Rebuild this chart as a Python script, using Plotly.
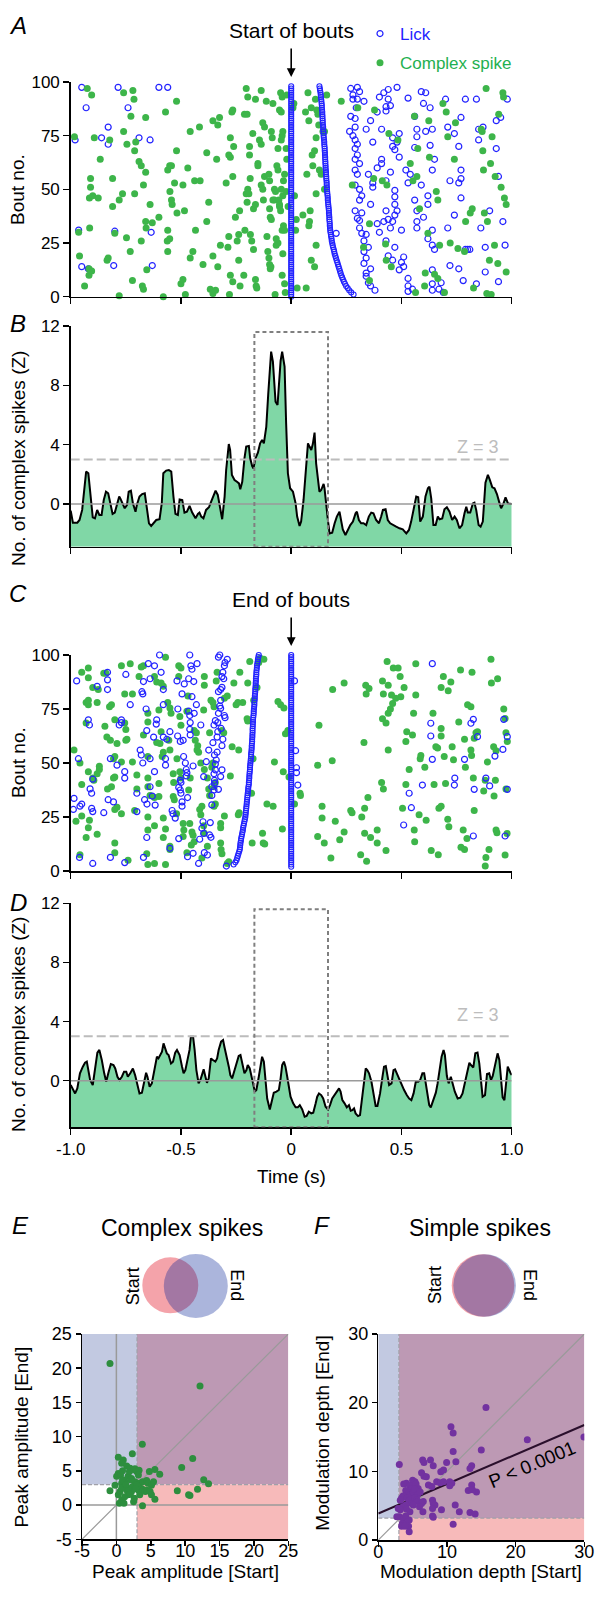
import plotly.graph_objects as go

W, H = 599, 1598
FONT = "Liberation Sans, Arial, Helvetica, sans-serif"

def fx(p):
    return p / W

def fy(p):
    return 1 - p / H

def unzip(pairs):
    return [p[0] for p in pairs], [p[1] for p in pairs]

# ---------------- DATA ----------------
# Panel A: complex spikes (time s, bout no.) aligned to start of bouts
A_spikes = [(-0.983,74.5),(-0.964,30),(-0.96,19),(-0.937,5),(-0.925,97),(-0.905,94),(-0.917,13),(-0.917,10),(-0.905,12),(-0.914,32),(-0.91,55),(-0.91,51),(-0.915,46),(-0.9,47),(-0.893,74),(-0.875,46),(-0.866,64),(-0.835,17),(-0.83,18),(-0.823,73),(-0.81,55),(-0.81,42),(-0.8,29.5),(-0.78,45),(-0.765,48),(-0.76,95),(-0.76,77),(-0.745,71),(-0.747,27.5),(-0.73,21),(-0.727,84),(-0.72,7.5),(-0.718,96),(-0.713,92),(-0.71,48),(-0.71,68),(-0.705,72),(-0.69,63),(-0.68,61),(-0.68,26),(-0.675,5),(-0.67,3.5),(-0.67,52),(-0.66,58),(-0.66,83.5),(-0.66,35),(-0.658,32),(-0.655,12.5),(-0.64,43),(-0.78,0.5),(-0.58,0),(-0.48,1),(-0.63,34.5),(-0.6,37),(-0.57,86),(-0.56,59),(-0.551,61),(-0.543,61),(-0.56,31),(-0.562,26),(-0.56,21),(-0.551,27),(-0.55,49),(-0.543,45),(-0.54,43),(-0.529,53),(-0.52,91),(-0.52,68),(-0.518,39),(-0.5,6),(-0.491,8),(-0.491,52),(-0.484,40),(-0.469,60),(-0.458,77),(-0.458,18),(-0.446,21),(-0.438,54),(-0.434,31),(-0.416,79),(-0.413,54),(-0.4,15),(-0.383,67),(-0.383,35),(-0.374,44),(-0.367,3.5),(-0.355,1.5),(-0.355,19),(-0.355,82),(-0.343,3),(-0.338,64),(-0.333,14),(-0.325,83.5),(-0.333,80),(-0.321,24),(-0.295,53),(-0.287,23),(-0.283,28),(-0.283,66),(-0.276,65),(-0.28,1),(-0.276,10),(-0.265,7),(-0.269,86),(-0.265,87),(-0.276,74),(-0.265,56),(-0.261,70),(-0.253,37),(-0.245,26),(-0.238,29),(-0.234,40),(-0.238,17),(-0.232,5),(-0.215,10),(-0.21,31),(-0.212,85),(-0.204,97),(-0.197,93),(-0.2,85),(-0.204,48),(-0.197,50),(-0.192,48),(-0.2,44),(-0.189,70),(-0.189,66),(-0.186,55),(-0.185,29),(-0.179,26),(-0.171,22),(-0.174,76),(-0.171,41),(-0.162,43),(-0.162,92),(-0.151,62),(-0.151,61),(-0.162,8),(-0.159,5),(-0.156,4),(-0.144,73),(-0.136,71),(-0.136,96),(-0.136,52),(-0.129,50),(-0.126,45),(-0.129,81),(-0.121,79),(-0.121,56),(-0.113,91),(-0.11,28),(-0.106,21),(-0.101,18),(-0.098,15),(-0.095,13),(-0.092,14),(-0.101,57),(-0.098,54),(-0.098,41),(-0.095,37),(-0.09,36),(-0.09,77),(-0.086,74),(-0.083,90),(-0.083,45),(-0.076,45),(-0.076,50),(-0.071,49),(-0.073,1),(-0.068,24),(-0.06,25),(-0.068,27),(-0.065,61),(-0.06,59),(-0.06,69),(-0.056,45),(-0.053,42),(-0.048,40),(-0.053,43),(-0.053,87),(-0.045,86),(-0.048,95),(-0.041,93),(-0.045,73),(-0.041,75),(-0.038,77),(-0.045,50),(-0.038,47),(-0.035,54),(-0.03,57),(-0.041,31),(-0.035,33),(-0.03,31),(-0.038,20),(-0.041,10),(-0.03,6),(-0.027,2),(-0.023,69),(-0.02,64),(-0.023,49),(-0.02,94),(-0.014,42),
    (0.008,88),(0.012,90),(0.02,31),(0.023,36),(0.015,47),(0.027,4),(0.053,38),(0.065,86),(0.068,4),(0.071,57),(0.076,95),(0.08,33),(0.083,35),(0.086,40),(0.08,82),(0.091,88),(0.091,17),(0.106,14),(0.095,66),(0.098,61),(0.106,68),(0.113,74),(0.11,92),(0.116,87),(0.113,48),(0.113,24),(0.121,85),(0.125,80),(0.128,59),(0.136,57),(0.144,77),(0.151,77),(0.151,50),(0.161,94),(0.227,91),(0.277,52),(0.302,88),(0.328,23),(0.355,34),(0.355,7.5),(0.374,55),(0.378,87),(0.413,54),(0.428,24.5),(0.431,17),(0.434,52),(0.443,76),(0.454,14),(0.484,73),(0.54,62),(0.552,54),(0.559,84),(0.564,2),(0.57,56),(0.574,69),(0.582,41),(0.605,5),(0.608,11),(0.62,29.5),(0.624,82),(0.627,65),(0.65,10.5),(0.658,49),(0.665,45),(0.665,8.5),(0.673,24),(0.688,90),(0.695,2),(0.703,86),(0.71,74.5),(0.721,25),(0.74,64),(0.745,81),(0.756,22.5),(0.786,21),(0.791,35),(0.812,39),(0.821,41),(0.827,4),(0.862,78),(0.866,77),(0.869,68),(0.872,59),(0.876,39),(0.884,97),(0.887,1.5),(0.907,1),(0.89,35),(0.899,17),(0.904,62),(0.911,74.5),(0.922,24),(0.925,56),(0.937,15.5),(0.941,85),(0.952,51),(0.96,95),(0.963,93),(0.967,46),(0.975,43),(0.975,11.5)]

# Panel A: licks other than the first two of each bout
A_licks = [(-0.95,97.5),(-0.93,88),(-0.98,73),(-0.964,31),(-0.95,14),(-0.92,13),(-0.83,79),(-0.86,74),(-0.83,71),(-0.8,30.5),(-0.805,14.5),(-0.785,97.5),(-0.74,88),(-0.69,74),(-0.64,73),(-0.635,30),(-0.63,14.5),(-0.6,97.5),(-0.56,97.5),
    (0.27,97),(0.28,94),(0.28,92),(0.3,97.5),(0.31,95.5),(0.3,92),(0.295,88),(0.27,84),(0.29,83),(0.265,77),(0.29,79),(0.28,75),(0.29,73),(0.3,71),(0.29,69),(0.3,66),(0.29,64),(0.31,62),(0.29,59),(0.3,57),(0.29,52),(0.31,50),(0.32,47),(0.31,45),(0.29,40),(0.32,39),(0.3,36.5),(0.31,35.5),(0.31,32),(0.32,29.5),(0.34,29),(0.33,26),(0.35,23),(0.33,21),(0.34,18),(0.33,15.5),(0.36,13),(0.34,11),(0.34,9.5),(0.35,6.5),(0.36,5),(0.38,3),(0.33,91),(0.36,82),(0.34,78),(0.35,57),(0.36,43),(0.37,72),(0.37,53),(0.37,51),(0.39,86),(0.4,93),(0.42,95),(0.44,96.5),(0.44,92),(0.43,88.5),(0.41,78),(0.43,86.5),(0.45,89),(0.41,64),(0.39,60),(0.41,62),(0.43,54),(0.45,58),(0.39,34),(0.4,30),(0.42,35),(0.43,40),(0.44,36),(0.46,35),(0.43,26),(0.44,19),(0.46,17),(0.45,32),(0.46,74),(0.46,70),(0.47,68.5),(0.49,76),(0.48,72),(0.49,65),(0.47,49.5),(0.47,46.5),(0.47,43),(0.48,40),(0.47,38),(0.5,31),(0.47,23),(0.51,18.5),(0.5,16),(0.49,12.5),(0.51,14),(0.53,8.5),(0.53,5),(0.55,3.5),(0.53,2.5),(0.48,97.5),(0.53,92.5),(0.56,84),(0.57,78),(0.57,74.5),(0.56,69.5),(0.53,53),(0.52,59),(0.54,57),(0.56,45),(0.57,40),(0.57,35),(0.57,32),(0.59,52),(0.6,37),(0.59,95.5),(0.61,95),(0.6,90),(0.63,88),(0.61,77),(0.64,78),(0.63,70.5),(0.65,64),(0.64,59),(0.62,47),(0.62,43),(0.64,31),(0.64,24),(0.65,22),(0.62,27),(0.64,12.5),(0.64,6),(0.64,3),(0.67,3.5),(0.68,6.5),(0.69,2),(0.7,92),(0.71,79),(0.74,76),(0.76,70),(0.71,32),(0.74,38),(0.77,46),(0.77,55),(0.77,59),(0.76,53),(0.72,54),(0.72,14.5),(0.76,13),(0.78,7.5),(0.79,22),(0.8,22),(0.81,22),(0.77,83.5),(0.79,92),(0.84,92),(0.85,78),(0.85,73),(0.87,79),(0.86,32),(0.88,11.5),(0.9,40),(0.94,56),(0.93,69),(0.95,83.5),(0.93,82),(0.97,24),(0.96,35),(0.94,7),(0.98,92),(0.88,23),(0.84,6),(0.204,29.5)]

# Panel A: time of the second lick for bouts 1..98 (sorted)
A_second_lick = [0.283,0.272,0.263,0.256,0.249,0.244,0.239,0.235,0.231,0.227,0.224,0.221,0.218,0.215,0.212,0.209,0.206,0.203,0.2,0.197,0.195,0.193,0.19,0.188,0.186,0.184,0.183,0.181,0.18,0.178,0.177,0.176,0.175,0.175,0.174,0.173,0.173,0.172,0.171,0.171,0.17,0.169,0.168,0.167,0.166,0.166,0.165,0.164,0.163,0.162,0.162,0.161,0.161,0.16,0.159,0.159,0.158,0.158,0.157,0.156,0.156,0.155,0.155,0.154,0.154,0.153,0.153,0.152,0.152,0.151,0.15,0.15,0.149,0.148,0.147,0.147,0.146,0.145,0.145,0.144,0.143,0.143,0.142,0.142,0.141,0.141,0.14,0.139,0.139,0.138,0.137,0.136,0.135,0.134,0.133,0.131,0.13,0.128]
A_first_lick_bouts = list(range(0, 99))

# Panel B: z-scored complex spike PSTH (start of bouts)
B_pts = [(-1.0,-0.45),(-0.99,-1.26),(-0.97,-1.26),(-0.96,-1.08),(-0.948,-0.4),(-0.937,0.94),(-0.93,2.18),(-0.92,2.07),(-0.91,0.5),(-0.9,-0.9),(-0.89,-0.97),(-0.88,-0.4),(-0.87,-0.74),(-0.86,-0.74),(-0.85,0.27),(-0.84,0.83),(-0.83,0.72),(-0.82,0.05),(-0.81,-0.67),(-0.8,-0.58),(-0.79,-0.07),(-0.78,0.5),(-0.775,0.38),(-0.763,-0.07),(-0.755,-0.29),(-0.745,-0.07),(-0.737,0.83),(-0.727,0.9),(-0.718,0.05),(-0.706,-0.52),(-0.7,-0.07),(-0.688,0.5),(-0.676,0.67),(-0.664,0.72),(-0.655,-0.4),(-0.645,-1.3),(-0.635,-1.48),(-0.624,-1.26),(-0.612,-1.08),(-0.597,-1.03),(-0.587,0.05),(-0.58,2.07),(-0.567,2.25),(-0.555,2.29),(-0.544,2.18),(-0.534,0.5),(-0.525,-0.67),(-0.514,-0.74),(-0.506,0.31),(-0.494,0.27),(-0.484,-0.58),(-0.473,-0.52),(-0.461,-0.13),(-0.449,-0.58),(-0.434,-0.97),(-0.423,-0.67),(-0.416,-0.58),(-0.408,-0.85),(-0.398,-0.97),(-0.386,-0.4),(-0.373,-0.22),(-0.363,0.16),(-0.352,0.61),(-0.343,0.9),(-0.333,0.61),(-0.322,-0.4),(-0.313,-1.03),(-0.302,0.5),(-0.295,2.29),(-0.283,4.04),(-0.277,3.64),(-0.269,1.96),(-0.257,1.62),(-0.246,1.5),(-0.237,1.39),(-0.231,0.99),(-0.222,1.5),(-0.212,3.08),(-0.204,3.87),(-0.192,3.91),(-0.186,3.08),(-0.177,2.56),(-0.171,2.4),(-0.162,3.08),(-0.151,3.46),(-0.141,4.09),(-0.132,4.31),(-0.124,4.09),(-0.113,5.2),(-0.104,7.46),(-0.098,8.8),(-0.091,10.27),(-0.083,9.6),(-0.076,7.9),(-0.071,6.9),(-0.062,6.67),(-0.056,8.13),(-0.048,9.66),(-0.041,10.27),(-0.03,9.26),(-0.023,5.44),(-0.015,2.07),(-0.005,1.06),(0.008,0.83),(0.02,0.04),(0.027,-0.85),(0.038,-1.48),(0.045,-1.19),(0.056,0.27),(0.065,2.18),(0.076,4.09),(0.083,3.87),(0.091,3.64),(0.098,4.04),(0.106,4.81),(0.113,2.74),(0.121,1.5),(0.128,0.83),(0.136,0.94),(0.147,1.35),(0.151,1.06),(0.159,-0.18),(0.166,-1.03),(0.174,-1.98),(0.186,-1.93),(0.197,-1.3),(0.207,-0.85),(0.219,-0.52),(0.227,-1.08),(0.234,-1.71),(0.246,-2.09),(0.257,-1.75),(0.268,-1.42),(0.28,-1.19),(0.292,-0.63),(0.298,-0.52),(0.307,-1.08),(0.317,-1.3),(0.328,-1.3),(0.34,-1.42),(0.352,-0.85),(0.363,-0.58),(0.373,-0.63),(0.385,-1.08),(0.398,-1.3),(0.408,-0.85),(0.416,-0.4),(0.428,-0.36),(0.438,-1.08),(0.449,-1.3),(0.461,-1.42),(0.476,-1.53),(0.491,-1.64),(0.506,-1.71),(0.522,-1.98),(0.534,-1.75),(0.544,-1.19),(0.555,-0.4),(0.567,0.5),(0.576,0.45),(0.585,-1.19),(0.597,-0.85),(0.609,0.5),(0.62,1.06),(0.627,1.17),(0.635,0.38),(0.645,-1.42),(0.655,-1.42),(0.665,-0.85),(0.673,-1.03),(0.685,-0.97),(0.695,-0.36),(0.706,-0.22),(0.718,-0.52),(0.73,-1.08),(0.741,-0.85),(0.751,-1.08),(0.763,-1.64),(0.775,-1.42),(0.786,-0.63),(0.794,-0.18),(0.801,-0.58),(0.812,-0.58),(0.824,0.04),(0.831,0.09),(0.839,-0.4),(0.85,-1.42),(0.859,-1.53),(0.869,-1.19),(0.881,1.44),(0.892,1.96),(0.9,1.66),(0.912,1.12),(0.922,1.06),(0.933,0.67),(0.945,0.04),(0.952,-0.29),(0.963,0.04),(0.972,0.45),(0.983,0.04),(1.0,0.0)]

# Panel C: complex spikes aligned to end of bouts
C_spikes = [(-0.985,56),(-0.976,23),(-0.958,7.5),(-0.958,50),(-0.95,40),(-0.95,92),(-0.92,94),(-0.92,89.5),(-0.93,78),(-0.92,77),(-0.92,79),(-0.93,68.5),(-0.92,46),(-0.95,25.5),(-0.915,23.5),(-0.92,20),(-0.93,15.5),(-0.88,17),(-0.9,85),(-0.88,78),(-0.875,84),(-0.9,43),(-0.87,48.5),(-0.87,47),(-0.88,45),(-0.895,42),(-0.85,91.5),(-0.84,91.5),(-0.845,67),(-0.836,62),(-0.82,60.5),(-0.833,38),(-0.815,39),(-0.806,43),(-0.8,43.5),(-0.824,76),(-0.815,77),(-0.806,52),(-0.8,53),(-0.8,70),(-0.79,59),(-0.79,29.5),(-0.8,28.5),(-0.8,13),(-0.8,8.5),(-0.77,26.5),(-0.77,95),(-0.755,82),(-0.755,68.5),(-0.75,60.5),(-0.75,65.5),(-0.745,61),(-0.77,50.5),(-0.74,5),(-0.73,96),(-0.72,82),(-0.72,50.5),(-0.71,28),(-0.7,44.5),(-0.7,38),(-0.69,90),(-0.68,94.5),(-0.67,95),(-0.67,63),(-0.65,73),(-0.65,69),(-0.65,53),(-0.65,39),(-0.65,25),(-0.65,43),(-0.64,35),(-0.65,19),(-0.655,8),(-0.65,3),(-0.62,90),(-0.61,87.5),(-0.59,87),(-0.58,85.5),(-0.62,21),(-0.62,3.5),(-0.62,34),(-0.6,40.5),(-0.6,34.5),(-0.6,74.5),(-0.59,64.5),(-0.61,59.5),(-0.595,59),(-0.585,53),(-0.58,55),(-0.58,15.5),(-0.57,19.5),(-0.57,3),(-0.58,24.5),(-0.57,99),(-0.56,78),(-0.55,75.5),(-0.545,73),(-0.555,60.5),(-0.55,56),(-0.535,45),(-0.533,41),(-0.535,34.5),(-0.53,33),(-0.55,11.5),(-0.55,10),(-0.518,52),(-0.52,26.5),(-0.51,95),(-0.5,94),(-0.51,90),(-0.505,71.5),(-0.5,67.5),(-0.505,46),(-0.5,43),(-0.49,22),(-0.487,19),(-0.49,16),(-0.473,74),(-0.468,81),(-0.465,37.5),(-0.458,43),(-0.46,22),(-0.45,18),(-0.445,16.5),(-0.44,13.5),(-0.453,12),(-0.473,8.5),(-0.44,65),(-0.43,64),(-0.435,60.5),(-0.424,58),(-0.427,56),(-0.42,55),(-0.41,50),(-0.415,28.5),(-0.405,30),(-0.41,26),(-0.405,6),(-0.394,86),(-0.394,90),(-0.397,74.5),(-0.394,47),(-0.38,43),(-0.397,21),(-0.394,17.5),(-0.38,11.5),(-0.374,38),(-0.37,35),(-0.37,64),(-0.364,79),(-0.355,78),(-0.35,76),(-0.36,48),(-0.355,50),(-0.35,39),(-0.344,41),(-0.344,31),(-0.35,30),(-0.34,88),(-0.336,92),(-0.32,22),(-0.32,20),(-0.32,13),(-0.318,10),(-0.314,8),(-0.314,65),(-0.306,64),(-0.303,80),(-0.29,81),(-0.303,25.5),(-0.29,3.5),(-0.283,4.3),(-0.276,44),(-0.268,57.5),(-0.26,87),(-0.25,77),(-0.242,78),(-0.24,26),(-0.236,27),(-0.238,56),(-0.233,92),(-0.22,78),(-0.2,70.5),(-0.197,69.5),(-0.197,87),(-0.188,97),(-0.18,36),(-0.177,13),(-0.173,52),(-0.17,79),(-0.155,85),(-0.147,96.5),(-0.14,98.5),(-0.124,98),(-0.13,17.5),(-0.127,13),(-0.12,12.5),(-0.11,31),(-0.082,30),(-0.076,50.5),(-0.06,78.5),(-0.048,77),(-0.033,75.5),(-0.04,19.5),(-0.036,46),(-0.026,63.5),(-0.015,65),(-0.01,43.5),(0.015,31),(0.04,36),(0.042,35),
    (0.12,16),(0.12,49),(0.126,67.5),(0.14,30),(0.14,24.5),(0.15,13),(0.18,6),(0.186,51),(0.188,84),(0.2,23),(0.22,14.5),(0.24,18),(0.24,87),(0.27,28),(0.276,27),(0.315,7.5),(0.32,25),(0.33,59.5),(0.333,29),(0.333,17.5),(0.338,86),(0.34,82),(0.353,84.5),(0.342,4.5),(0.348,34),(0.36,15.5),(0.39,19),(0.39,13),(0.41,41),(0.418,38),(0.414,88),(0.418,82),(0.414,70.5),(0.43,68.5),(0.43,9.5),(0.435,97),(0.44,56),(0.44,86),(0.455,81.5),(0.44,73),(0.45,75),(0.46,77.5),(0.474,80),(0.463,94),(0.485,94),(0.494,90),(0.497,80.7),(0.505,29),(0.512,85),(0.52,60),(0.524,64.5),(0.52,40),(0.535,47),(0.55,63),(0.555,73),(0.558,19),(0.56,13.5),(0.565,96),(0.565,81.5),(0.58,26),(0.585,52),(0.588,53.5),(0.606,48),(0.612,23.5),(0.635,9.5),(0.643,73),(0.648,40),(0.656,57.5),(0.664,57),(0.667,7.5),(0.67,29),(0.68,30),(0.68,66),(0.68,62.5),(0.68,85),(0.69,90),(0.694,53),(0.7,40.5),(0.71,24),(0.712,83.5),(0.715,20.5),(0.724,87.5),(0.73,57.5),(0.736,51.5),(0.76,69),(0.768,93),(0.77,11),(0.786,10),(0.78,19),(0.786,61),(0.79,48),(0.797,15),(0.8,77),(0.815,76),(0.815,56),(0.818,53.5),(0.82,92),(0.826,43),(0.83,28),(0.83,61.5),(0.838,64),(0.845,64.5),(0.873,37),(0.88,42),(0.88,2.3),(0.883,6.3),(0.89,50.5),(0.897,10),(0.906,98),(0.908,87),(0.918,57.5),(0.929,55.7),(0.92,34.7),(0.926,42),(0.929,19),(0.933,17.7),(0.936,89),(0.964,75),(0.97,70.6),(0.974,64),(0.98,60),(0.97,7.4),(0.974,38),(0.979,17.4)]

C_licks = [(-0.988,28.5),(-0.985,33.6),(-0.973,88),(-0.965,52),(-0.958,30),(-0.95,31),(-0.96,6.3),(-0.92,70),(-0.915,67.6),(-0.912,38),(-0.905,36),(-0.905,29),(-0.9,27.5),(-0.9,42.5),(-0.9,3.5),(-0.88,85.5),(-0.85,27),(-0.833,92),(-0.833,88.5),(-0.833,84),(-0.83,33),(-0.806,32),(-0.82,52),(-0.82,6.3),(-0.79,49),(-0.77,70),(-0.77,68.7),(-0.78,67.6),(-0.755,46),(-0.755,43),(-0.755,3.9),(-0.75,91),(-0.73,77),(-0.7,36),(-0.7,27.5),(-0.685,56),(-0.68,53.7),(-0.677,83),(-0.673,82),(-0.673,50),(-0.67,6.3),(-0.67,87.7),(-0.665,33),(-0.654,31),(-0.658,75),(-0.655,65),(-0.655,15.5),(-0.648,96),(-0.64,89),(-0.64,52),(-0.64,39),(-0.63,34.7),(-0.624,62),(-0.62,95),(-0.62,46),(-0.617,30.5),(-0.612,68),(-0.61,70),(-0.597,100),(-0.59,92),(-0.58,84),(-0.58,77),(-0.58,62),(-0.57,52),(-0.57,49),(-0.564,61),(-0.55,10.5),(-0.55,64.5),(-0.54,28),(-0.536,26.5),(-0.526,24.5),(-0.518,88),(-0.515,62.5),(-0.514,75),(-0.51,38.7),(-0.51,15),(-0.503,42),(-0.5,41),(-0.503,37.5),(-0.5,36),(-0.495,30),(-0.495,32),(-0.503,60),(-0.495,82),(-0.49,60.5),(-0.488,53),(-0.485,86.6),(-0.48,50),(-0.476,47),(-0.476,44),(-0.473,45.5),(-0.47,34),(-0.47,6.6),(-0.465,89),(-0.465,74),(-0.46,72),(-0.458,68.7),(-0.46,65.6),(-0.458,63),(-0.46,100),(-0.455,95),(-0.45,93.4),(-0.45,80.7),(-0.445,48.6),(-0.442,87.7),(-0.445,8.2),(-0.44,73),(-0.43,77),(-0.427,96),(-0.42,3.5),(-0.415,14.7),(-0.41,67.6),(-0.405,19.8),(-0.397,17.4),(-0.4,22.8),(-0.397,43.7),(-0.394,8.5),(-0.385,50.6),(-0.374,56),(-0.38,7.4),(-0.37,16.7),(-0.364,15.6),(-0.367,22.4),(-0.36,30.6),(-0.36,35),(-0.35,37.5),(-0.36,39),(-0.348,42),(-0.348,40.6),(-0.355,59.4),(-0.35,67.6),(-0.35,45),(-0.344,46.8),(-0.348,53.7),(-0.34,51.4),(-0.344,49.5),(-0.336,55),(-0.336,62),(-0.333,64.5),(-0.344,69.6),(-0.333,68.7),(-0.33,73),(-0.32,75.3),(-0.324,76.4),(-0.33,83),(-0.32,84),(-0.314,85),(-0.32,79),(-0.314,90),(-0.31,92),(-0.303,95),(-0.3,96.5),(-0.29,98),(-0.324,100),(-0.33,99),(-0.306,89),(-0.318,66),(-0.314,58),(-0.31,61),(-0.303,72),(-0.3,71),(-0.32,43.7),(-0.314,46.8),(-0.294,2.3),(-0.33,37.8),(0.015,88),(0.02,55.7),(0.024,47.8),(0.024,45.5),(0.03,39.8),
    (0.51,21.3),(0.535,36),(0.545,29.3),(0.595,39.8),(0.633,68.4),(0.633,62.5),(0.64,96),(0.64,51.7),(0.74,39.8),(0.742,43),(0.786,51.7),(0.815,68.4),(0.826,70.2),(0.83,37.8),(0.826,16.2),(0.845,62.2),(0.883,43),(0.9,39.4),(0.924,53.2),(0.96,56.3),(0.964,70.2),(0.97,16.2),(0.98,62.2),(0.98,37.8)]

# Panel C: time of the second-to-last lick for bouts 3..100 (sorted)
C_prev_lick = [-0.261,-0.253,-0.248,-0.245,-0.242,-0.239,-0.236,-0.233,-0.232,-0.231,-0.23,-0.228,-0.227,-0.225,-0.223,-0.221,-0.219,-0.218,-0.216,-0.214,-0.212,-0.21,-0.208,-0.207,-0.206,-0.205,-0.204,-0.203,-0.202,-0.201,-0.2,-0.199,-0.198,-0.197,-0.196,-0.195,-0.194,-0.192,-0.192,-0.191,-0.19,-0.19,-0.189,-0.188,-0.187,-0.187,-0.186,-0.185,-0.184,-0.183,-0.182,-0.182,-0.181,-0.18,-0.179,-0.179,-0.178,-0.177,-0.177,-0.176,-0.176,-0.175,-0.175,-0.175,-0.174,-0.174,-0.173,-0.173,-0.172,-0.171,-0.17,-0.17,-0.169,-0.168,-0.167,-0.167,-0.166,-0.165,-0.165,-0.164,-0.163,-0.163,-0.162,-0.161,-0.161,-0.16,-0.16,-0.159,-0.158,-0.158,-0.157,-0.156,-0.155,-0.154,-0.152,-0.151,-0.149,-0.147]
C_last_lick_bouts = list(range(2, 101))

# Panel D: z-scored complex spike PSTH (end of bouts)
D_pts = [(-1.0,-0.29),(-0.99,-0.63),(-0.98,-0.86),(-0.97,-0.52),(-0.958,0.5),(-0.945,0.95),(-0.935,1.22),(-0.927,1.29),(-0.92,0.72),(-0.912,0.05),(-0.9,-0.29),(-0.889,0.72),(-0.879,1.9),(-0.87,2.08),(-0.859,1.4),(-0.848,0.5),(-0.839,-0.07),(-0.829,0.54),(-0.818,1.13),(-0.806,1.06),(-0.798,0.83),(-0.788,0.27),(-0.779,0.05),(-0.768,0.27),(-0.758,0.61),(-0.748,0.61),(-0.741,0.27),(-0.73,0.5),(-0.718,0.83),(-0.708,0.38),(-0.697,-0.41),(-0.688,-0.86),(-0.677,-0.81),(-0.667,-0.18),(-0.658,0.54),(-0.652,0.27),(-0.642,-0.41),(-0.632,-0.18),(-0.621,0.72),(-0.609,1.62),(-0.602,1.51),(-0.594,1.74),(-0.586,1.96),(-0.579,2.53),(-0.571,2.19),(-0.564,1.85),(-0.556,1.74),(-0.545,1.17),(-0.536,1.29),(-0.526,1.9),(-0.518,2.08),(-0.506,1.74),(-0.495,0.95),(-0.488,0.5),(-0.48,0.72),(-0.47,1.51),(-0.461,2.08),(-0.455,2.98),(-0.445,2.98),(-0.438,2.08),(-0.43,0.72),(-0.42,-0.18),(-0.412,0.05),(-0.405,0.38),(-0.397,0.77),(-0.389,0.27),(-0.382,-0.14),(-0.374,0.16),(-0.364,1.51),(-0.355,1.4),(-0.344,1.29),(-0.336,1.51),(-0.329,2.08),(-0.318,2.64),(-0.309,2.75),(-0.303,2.3),(-0.294,1.74),(-0.283,0.95),(-0.276,0.38),(-0.268,0.16),(-0.261,0.5),(-0.253,0.95),(-0.245,1.4),(-0.238,1.67),(-0.23,1.74),(-0.223,1.17),(-0.212,0.5),(-0.203,0.72),(-0.197,1.06),(-0.188,0.83),(-0.182,0.5),(-0.173,-0.18),(-0.165,-0.74),(-0.158,-0.63),(-0.147,0.27),(-0.139,0.95),(-0.132,1.62),(-0.124,1.29),(-0.117,0.27),(-0.109,-1.2),(-0.097,-1.94),(-0.086,-1.31),(-0.079,-0.81),(-0.067,-0.74),(-0.056,-0.63),(-0.048,0.16),(-0.041,1.06),(-0.033,1.29),(-0.026,0.95),(-0.018,0.27),(-0.011,-0.52),(-0.003,-1.08),(0.009,-1.53),(0.02,-1.8),(0.03,-1.8),(0.039,-1.65),(0.05,-1.94),(0.061,-2.44),(0.07,-2.39),(0.08,-2.1),(0.091,-2.21),(0.1,-2.17),(0.111,-1.53),(0.118,-1.08),(0.126,-0.86),(0.136,-0.97),(0.145,-1.2),(0.156,-1.76),(0.167,-1.94),(0.176,-1.65),(0.186,-1.2),(0.197,-0.97),(0.206,-0.74),(0.217,-0.52),(0.224,-0.74),(0.232,-1.31),(0.242,-1.53),(0.252,-1.8),(0.262,-1.65),(0.27,-2.03),(0.277,-1.99),(0.285,-1.87),(0.292,-2.21),(0.303,-2.39),(0.312,-2.32),(0.318,-1.53),(0.327,-0.41),(0.338,0.83),(0.345,0.72),(0.353,0.5),(0.364,-0.07),(0.373,-0.86),(0.383,-1.71),(0.391,-1.71),(0.403,-0.86),(0.414,0.27),(0.421,0.95),(0.429,0.99),(0.436,0.27),(0.444,-0.29),(0.455,-0.18),(0.464,0.72),(0.471,0.77),(0.479,0.5),(0.489,0.05),(0.5,-0.29),(0.512,-0.63),(0.524,-0.97),(0.535,-1.2),(0.545,-1.31),(0.555,-0.86),(0.565,-0.07),(0.576,-0.07),(0.585,0.05),(0.595,0.5),(0.603,0.5),(0.615,-0.63),(0.626,-1.65),(0.633,-1.8),(0.645,-1.31),(0.656,-0.81),(0.664,-0.18),(0.676,0.95),(0.682,1.62),(0.691,2.08),(0.697,1.74),(0.706,0.32),(0.714,-0.18),(0.724,0.27),(0.732,-0.18),(0.742,-0.74),(0.755,-1.2),(0.767,-1.15),(0.777,-0.86),(0.788,-0.18),(0.8,0.61),(0.808,1.22),(0.815,1.06),(0.826,0.9),(0.835,1.85),(0.845,1.9),(0.853,1.17),(0.861,-0.18),(0.868,-1.08),(0.879,-0.97),(0.888,0.45),(0.898,0.5),(0.906,0.05),(0.914,0.32),(0.921,0.77),(0.929,1.4),(0.936,1.85),(0.944,1.4),(0.952,-0.18),(0.959,-1.13),(0.967,-1.31),(0.974,-0.18),(0.982,0.95),(0.994,0.54),(1.0,0.38)]

# Panel E: complex-spike peak amplitude (start, end)
E_pts = [(-0.93,20.7),(12.16,17.4),(3.77,8.9),(2.32,7.5),(0.28,7.0),(11.1,6.8),(9.5,5.5),(1.0,6.6),(0.77,6.1),(1.5,5.7),(2.0,5.4),(2.7,5.3),(2.5,5.2),(2.95,4.9),(3.3,5.1),(4.8,4.9),(5.6,5.2),(6.3,4.5),(0.28,4.6),(0.04,4.2),(0.6,4.4),(1.7,4.2),(2.2,3.9),(1.25,3.4),(0.77,3.2),(-0.2,2.9),(2.7,3.4),(3.4,3.2),(3.8,3.4),(4.4,3.6),(4.6,3.2),(5.1,2.9),(5.4,3.4),(12.7,3.7),(13.4,3.1),(-0.93,2.1),(0.28,1.5),(0.53,2.0),(0.77,0.7),(0.43,0.25),(1.25,2.7),(1.5,2.2),(1.7,1.5),(2.2,2.0),(2.37,2.7),(2.95,2.9),(3.2,2.2),(3.4,1.5),(3.7,2.4),(3.9,2.2),(4.2,2.0),(2.5,0.5),(2.6,1.0),(4.4,2.2),(4.9,2.0),(5.1,1.5),(5.6,0.85),(3.8,-0.1),(8.86,2.1),(10.5,1.5),(10.7,1.4),(11.8,2.3),(1.1,0.25),(1.7,2.45),(0.77,2.45),(0.9,3.7),(1.9,4.9),(2.1,3.7),(3.2,4.4),(1.2,1.2),(2.0,1.6),(1.4,3.0),(2.8,2.4),(0.9,5.0)]

# Panel F: simple-spike modulation depth (start, end)
F_pts = [(15.68,19.3),(10.58,16.5),(10.9,15.6),(3.06,11.0),(10.9,12.9),(15.0,13.1),(21.7,14.6),(29.95,15.0),(6.46,11.65),(6.65,11.3),(7.6,11.65),(8.0,10.8),(9.95,11.3),(11.3,11.4),(13.35,10.4),(13.6,10.8),(9.1,9.95),(9.5,10.2),(6.3,9.8),(6.65,9.3),(7.0,9.2),(5.0,8.7),(5.34,8.5),(4.1,8.25),(3.7,8.15),(4.6,7.9),(4.85,7.5),(5.5,8.15),(5.8,7.5),(7.3,8.0),(7.8,7.8),(8.5,8.5),(9.0,8.35),(9.5,8.5),(10.4,8.5),(10.7,8.25),(10.4,7.9),(13.6,8.0),(13.1,7.2),(14.3,7.0),(13.7,7.3),(4.0,7.2),(4.4,6.9),(4.6,6.55),(5.1,6.9),(5.3,7.4),(5.7,6.55),(6.1,7.0),(3.6,6.4),(3.4,6.1),(3.2,5.8),(4.2,6.1),(4.5,5.8),(5.3,6.1),(5.6,5.8),(5.8,5.6),(6.3,5.3),(6.55,5.6),(6.0,4.85),(4.85,5.3),(5.1,5.1),(3.6,4.85),(4.0,5.1),(4.1,4.5),(2.9,4.6),(3.2,4.4),(4.6,4.1),(7.9,5.8),(8.0,5.3),(8.25,5.1),(7.9,4.6),(7.9,3.5),(8.0,3.3),(9.2,4.4),(6.5,4.1),(11.2,5.1),(11.8,4.1),(13.35,4.0),(14.1,3.8),(10.9,2.3),(3.06,3.4),(3.6,3.15),(4.0,3.5),(3.5,2.4),(4.1,2.4),(4.5,2.9),(4.4,2.0),(3.4,2.0),(3.9,2.0),(4.5,1.2),(2.7,3.4)]
F_fit_intercept = 3.85
F_fit_slope = 0.43

# PSTH thresholds / windows
Z_THRESHOLD = 3
WINDOW = (-0.167, 0.167)
WINDOW_TOP = 11.6
E_CUTOFF = 3
F_CUTOFF_X = 3
F_CUTOFF_Y = 3.2

# ---------------- STYLE ----------------
GREEN = '#3db54a'
LEGEND_GREEN = '#1fb050'
BLUE = '#2323ff'
FILL = '#80d7a6'
E_GREEN = '#2d8e3e'
PURPLE = '#7232a0'
Q_BLUE = '#c2c9e1'
Q_PURPLE = '#bd99b4'
Q_RED = '#f7baba'

B_YMIN = -2.88
D_YMIN = -3.15

fig = go.Figure()

# ---- Panel A ----
open_marker = dict(symbol='circle-open', color=BLUE, size=6, line=dict(width=1.2, color=BLUE))
col_marker = dict(symbol='circle-open', color=BLUE, size=5, line=dict(width=1.1, color=BLUE))
Lt, Lb = unzip(A_licks)
fig.add_trace(go.Scatter(x=Lt, y=Lb, mode='markers', xaxis='x', yaxis='y', marker=open_marker,
                         cliponaxis=False, name='<span style="color:%s">Lick</span>' % BLUE,
                         legendgroup='lk', showlegend=True, hoverinfo='skip'))
At, Ab = unzip(A_spikes)
fig.add_trace(go.Scatter(x=At, y=Ab, mode='markers', xaxis='x', yaxis='y',
                         marker=dict(color=GREEN, size=7), cliponaxis=False,
                         name='<span style="color:%s">Complex spike</span>' % LEGEND_GREEN,
                         legendgroup='cs', showlegend=True, hoverinfo='skip'))
fig.add_trace(go.Scatter(x=[0.0] * len(A_first_lick_bouts), y=A_first_lick_bouts, mode='markers',
                         xaxis='x', yaxis='y', marker=col_marker, cliponaxis=False,
                         showlegend=False, hoverinfo='skip'))
fig.add_trace(go.Scatter(x=A_second_lick, y=list(range(1, 1 + len(A_second_lick))), mode='markers',
                         xaxis='x', yaxis='y', marker=col_marker, cliponaxis=False,
                         showlegend=False, hoverinfo='skip'))

# ---- Panel B ----
Bt, Bz = unzip(B_pts)
fig.add_trace(go.Scatter(x=[-1, 1], y=[B_YMIN, B_YMIN], mode='lines', line=dict(width=0),
                         xaxis='x2', yaxis='y2', showlegend=False, hoverinfo='skip'))
fig.add_trace(go.Scatter(x=Bt, y=Bz, mode='lines', fill='tonexty', fillcolor=FILL,
                         line=dict(color='black', width=2), xaxis='x2', yaxis='y2',
                         showlegend=False, hoverinfo='skip'))

# ---- Panel C ----
Ct, Cb = unzip(C_spikes)
fig.add_trace(go.Scatter(x=Ct, y=Cb, mode='markers', xaxis='x3', yaxis='y3',
                         marker=dict(color=GREEN, size=7), cliponaxis=False,
                         showlegend=False, hoverinfo='skip'))
CLt, CLb = unzip(C_licks)
fig.add_trace(go.Scatter(x=CLt, y=CLb, mode='markers', xaxis='x3', yaxis='y3', marker=open_marker,
                         cliponaxis=False, showlegend=False, hoverinfo='skip'))
fig.add_trace(go.Scatter(x=[0.0] * len(C_last_lick_bouts), y=C_last_lick_bouts, mode='markers',
                         xaxis='x3', yaxis='y3', marker=col_marker, cliponaxis=False,
                         showlegend=False, hoverinfo='skip'))
fig.add_trace(go.Scatter(x=C_prev_lick, y=list(range(3, 3 + len(C_prev_lick))), mode='markers',
                         xaxis='x3', yaxis='y3', marker=col_marker, cliponaxis=False,
                         showlegend=False, hoverinfo='skip'))

# ---- Panel D ----
Dt, Dz = unzip(D_pts)
fig.add_trace(go.Scatter(x=[-1, 1], y=[D_YMIN, D_YMIN], mode='lines', line=dict(width=0),
                         xaxis='x4', yaxis='y4', showlegend=False, hoverinfo='skip'))
fig.add_trace(go.Scatter(x=Dt, y=Dz, mode='lines', fill='tonexty', fillcolor=FILL,
                         line=dict(color='black', width=2), xaxis='x4', yaxis='y4',
                         showlegend=False, hoverinfo='skip'))

# ---- Panel E ----
Ex, Ey = unzip(E_pts)
fig.add_trace(go.Scatter(x=Ex, y=Ey, mode='markers', xaxis='x5', yaxis='y5',
                         marker=dict(color=E_GREEN, size=7), showlegend=False, hoverinfo='skip'))

# ---- Panel F ----
Fx, Fy = unzip(F_pts)
fig.add_trace(go.Scatter(x=[0, 30], y=[F_fit_intercept, F_fit_intercept + F_fit_slope * 30],
                         mode='lines', line=dict(color='#2a0f2c', width=2), xaxis='x6', yaxis='y6',
                         showlegend=False, hoverinfo='skip', cliponaxis=False))
fig.add_trace(go.Scatter(x=Fx, y=Fy, mode='markers', xaxis='x6', yaxis='y6',
                         marker=dict(color=PURPLE, size=7), showlegend=False, hoverinfo='skip'))

# ---------------- AXES ----------------
def axis(**kw):
    base = dict(showline=True, linecolor='black', linewidth=1.5, ticks='outside', ticklen=6,
                tickwidth=1.5, tickcolor='black', showgrid=False, zeroline=False, automargin=False,
                tickfont=dict(size=17, color='black', family=FONT), fixedrange=True)
    base.update(kw)
    return base

EF_TICKFONT = dict(size=18, color='black', family=FONT)
XD = [fx(70.7), fx(511.7)]
time_ticks = [-1, -0.5, 0, 0.5, 1]
layout_axes = dict(
    xaxis=axis(domain=XD, range=[-1, 1], tickvals=time_ticks, showticklabels=False, anchor='y'),
    yaxis=axis(domain=[fy(296.7), fy(82)], range=[0, 100], tickvals=[0, 25, 50, 75, 100], anchor='x'),
    xaxis2=axis(domain=XD, range=[-1, 1], tickvals=time_ticks, showticklabels=False, anchor='y2'),
    yaxis2=axis(domain=[fy(546.7), fy(326)], range=[B_YMIN, 12], tickvals=[0, 4, 8, 12], anchor='x2'),
    xaxis3=axis(domain=XD, range=[-1, 1], tickvals=time_ticks, showticklabels=False, anchor='y3'),
    yaxis3=axis(domain=[fy(871), fy(655)], range=[0, 100], tickvals=[0, 25, 50, 75, 100], anchor='x3'),
    xaxis4=axis(domain=XD, range=[-1, 1], tickvals=time_ticks,
                ticktext=['-1.0', '-0.5', '0', '0.5', '1.0'], anchor='y4'),
    yaxis4=axis(domain=[fy(1127.3), fy(903.3)], range=[D_YMIN, 12], tickvals=[0, 4, 8, 12], anchor='x4'),
    xaxis5=axis(domain=[fx(82), fx(288.3)], range=[-5, 25], tickvals=[-5, 0, 5, 10, 15, 20, 25],
                ticktext=['-5', '0', '5', '10', '15', '20', '25'], anchor='y5', ticklen=5,
                tickfont=EF_TICKFONT, ticklabelstandoff=-10),
    yaxis5=axis(domain=[fy(1539.3), fy(1334)], range=[-5, 25], tickvals=[-5, 0, 5, 10, 15, 20, 25],
                ticktext=['-5', '0', '5', '10', '15', '20', '25'], anchor='x5', ticklen=5,
                tickfont=EF_TICKFONT),
    xaxis6=axis(domain=[fx(378.3), fx(584.3)], range=[0, 30], tickvals=[0, 10, 20, 30], anchor='y6',
                ticklen=5, tickfont=EF_TICKFONT, ticklabelstandoff=-10),
    yaxis6=axis(domain=[fy(1540), fy(1334)], range=[0, 30], tickvals=[0, 10, 20, 30], anchor='x6',
                ticklen=5, tickfont=EF_TICKFONT),
)

# ---------------- SHAPES ----------------
shapes = []
for xa, ya, ymin in (('x2', 'y2', B_YMIN), ('x4', 'y4', D_YMIN)):
    shapes.append(dict(type='line', xref=xa, yref=ya, x0=-1, x1=1, y0=0, y1=0,
                       line=dict(color='#9a9a9a', width=1.5)))
    shapes.append(dict(type='line', xref=xa, yref=ya, x0=-1, x1=1, y0=Z_THRESHOLD, y1=Z_THRESHOLD,
                       line=dict(color='#bcbcbc', width=2, dash='9px,4px')))
    shapes.append(dict(type='rect', xref=xa, yref=ya, x0=WINDOW[0], x1=WINDOW[1], y0=ymin, y1=WINDOW_TOP,
                       line=dict(color='#7f7f7f', width=2, dash='4px,3px')))

# E quadrants
shapes += [
    dict(type='rect', xref='x5', yref='y5', x0=-5, x1=E_CUTOFF, y0=E_CUTOFF, y1=25, fillcolor=Q_BLUE,
         line=dict(width=0), layer='below'),
    dict(type='rect', xref='x5', yref='y5', x0=E_CUTOFF, x1=25, y0=E_CUTOFF, y1=25, fillcolor=Q_PURPLE,
         line=dict(width=0), layer='below'),
    dict(type='rect', xref='x5', yref='y5', x0=E_CUTOFF, x1=25, y0=-5, y1=E_CUTOFF, fillcolor=Q_RED,
         line=dict(width=0), layer='below'),
    dict(type='line', xref='x5', yref='y5', x0=0, x1=0, y0=-5, y1=25, line=dict(color='#9a9a9a', width=1.5), layer='below'),
    dict(type='line', xref='x5', yref='y5', x0=-5, x1=25, y0=0, y1=0, line=dict(color='#9a9a9a', width=1.5), layer='below'),
    dict(type='line', xref='x5', yref='y5', x0=-5, x1=25, y0=-5, y1=25, line=dict(color='#9a9a9a', width=1.2), layer='below'),
    dict(type='line', xref='x5', yref='y5', x0=E_CUTOFF, x1=E_CUTOFF, y0=-5, y1=25,
         line=dict(color='#a0a0a8', width=1.2, dash='4px,2px'), layer='below'),
    dict(type='line', xref='x5', yref='y5', x0=-5, x1=25, y0=E_CUTOFF, y1=E_CUTOFF,
         line=dict(color='#a0a0a8', width=1.2, dash='4px,2px'), layer='below'),
]
# F quadrants
shapes += [
    dict(type='rect', xref='x6', yref='y6', x0=0, x1=F_CUTOFF_X, y0=F_CUTOFF_Y, y1=30, fillcolor=Q_BLUE,
         line=dict(width=0), layer='below'),
    dict(type='rect', xref='x6', yref='y6', x0=F_CUTOFF_X, x1=30, y0=F_CUTOFF_Y, y1=30, fillcolor=Q_PURPLE,
         line=dict(width=0), layer='below'),
    dict(type='rect', xref='x6', yref='y6', x0=F_CUTOFF_X, x1=30, y0=0, y1=F_CUTOFF_Y, fillcolor=Q_RED,
         line=dict(width=0), layer='below'),
    dict(type='line', xref='x6', yref='y6', x0=0, x1=30, y0=0, y1=30, line=dict(color='#9a9a9a', width=1.2), layer='below'),
    dict(type='line', xref='x6', yref='y6', x0=F_CUTOFF_X, x1=F_CUTOFF_X, y0=0, y1=30,
         line=dict(color='#a0a0a8', width=1.2, dash='4px,2px'), layer='below'),
    dict(type='line', xref='x6', yref='y6', x0=0, x1=30, y0=F_CUTOFF_Y, y1=F_CUTOFF_Y,
         line=dict(color='#a0a0a8', width=1.2, dash='4px,2px'), layer='below'),
]

# Venn diagrams (red = start, translucent blue = end)
def circle(cx, cy, r, color):
    return dict(type='circle', xref='paper', yref='paper', x0=fx(cx - r), x1=fx(cx + r),
                y0=fy(cy + r), y1=fy(cy - r), fillcolor=color, line=dict(width=0), layer='above')

VENN_RED = '#f4a3aa'
VENN_BLUE = 'rgba(0,31,149,0.33)'
shapes += [circle(170.3, 1285.3, 28, VENN_RED), circle(195.8, 1286, 32, VENN_BLUE),
           circle(483.0, 1285.5, 31.3, VENN_RED), circle(484.6, 1285.5, 31.3, VENN_BLUE)]

# ---------------- ANNOTATIONS ----------------
def txt(x, y, text, size=19, color='black', angle=0, **kw):
    d = dict(x=fx(x), y=fy(y), xref='paper', yref='paper', text=text, showarrow=False,
             font=dict(size=size, color=color, family=FONT), textangle=angle,
             xanchor='center', yanchor='middle')
    d.update(kw)
    return d

ann = [
    txt(18.3, 25, '<i>A</i>', size=24), txt(18.3, 323, '<i>B</i>', size=24),
    txt(18.3, 593, '<i>C</i>', size=24), txt(18.3, 902, '<i>D</i>', size=24),
    txt(20, 1225, '<i>E</i>', size=24), txt(322, 1225, '<i>F</i>', size=24),
    txt(291.7, 31, 'Start of bouts', size=21),
    txt(290.5, 599.3, 'End of bouts', size=21),
    txt(18, 190, 'Bout no.', size=19, angle=-90),
    txt(18, 459, 'No. of complex spikes (Z)', size=19, angle=-90),
    txt(18, 763, 'Bout no.', size=19, angle=-90),
    txt(18, 1025, 'No. of complex spikes (Z)', size=19, angle=-90),
    txt(291.7, 1176, 'Time (s)', size=19),
    txt(478, 447, 'Z = 3', size=18, color='#bdbdbd'),
    txt(478, 1015, 'Z = 3', size=18, color='#bdbdbd'),
    txt(181.7, 1228, 'Complex spikes', size=23),
    txt(480, 1228, 'Simple spikes', size=23),
    txt(133.3, 1286, 'Start', size=18, angle=-90),
    txt(236.7, 1285, 'End', size=18, angle=90),
    txt(435, 1285, 'Start', size=18, angle=-90),
    txt(530, 1285, 'End', size=18, angle=90),
    txt(185, 1571, 'Peak amplitude [Start]', size=19),
    txt(21.7, 1436.7, 'Peak amplitude [End]', size=19, angle=-90),
    txt(481, 1571, 'Modulation depth [Start]', size=19),
    txt(321.7, 1433, 'Modulation depth [End]', size=19, angle=-90),
    dict(x=22.4, y=11.0, xref='x6', yref='y6', text='P < 0.0001', showarrow=False,
         font=dict(size=19, color='black', family=FONT), textangle=-23),
]
# arrows
for xa, tip in (('x', 77), ('x3', 646)):
    ann.append(dict(x=0, y=fy(tip), xref=xa, yref='paper', ax=0, ay=-30, axref='pixel', ayref='pixel',
                    text='', showarrow=True, arrowhead=2, arrowsize=1.1, arrowwidth=1.6,
                    arrowcolor='black'))

fig.update_layout(
    width=W, height=H, margin=dict(l=0, r=0, t=0, b=0, autoexpand=False),
    paper_bgcolor='white', plot_bgcolor='rgba(0,0,0,0)',
    font=dict(family=FONT, color='black'),
    shapes=shapes, annotations=ann,
    showlegend=True,
    legend=dict(x=fx(360), y=fy(16), xanchor='left', yanchor='top', bgcolor='rgba(0,0,0,0)',
                font=dict(size=17, family=FONT), tracegroupgap=4, traceorder='grouped',
                itemclick=False, itemdoubleclick=False),
    **layout_axes,
)

# remove the browser's default 8px page margin so the figure sits at the window origin
fig.write_html("out.html", config={'displayModeBar': False, 'staticPlot': True},
               post_script="document.body.style.margin='0px';document.body.style.overflow='hidden';")
